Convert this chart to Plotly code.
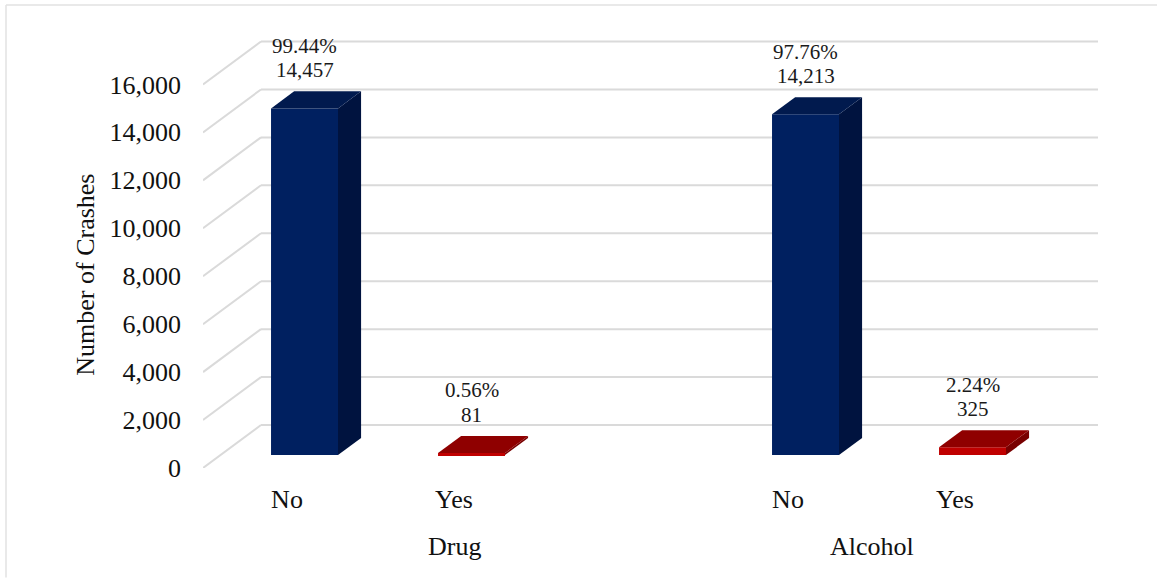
import plotly.graph_objects as go

# Data
groups = ["Drug", "Alcohol"]
categories = ["No", "Yes", "No", "Yes"]
positions = [0, 1, 3, 4]
crashes = [14457, 81, 14213, 325]
percents = ["99.44%", "0.56%", "97.76%", "2.24%"]
value_labels = ["14,457", "81", "14,213", "325"]
y_ticks = [0, 2000, 4000, 6000, 8000, 10000, 12000, 14000, 16000]
group_positions = [1, 3.5]

# Style
FRONT = ["#002060", "#c00000", "#002060", "#c00000"]
TOP = ["#011a4e", "#8f0000", "#011a4e", "#8f0000"]
SIDE = ["#00133f", "#780000", "#00133f", "#780000"]
GRID = "#dadada"
FONT = "Liberation Serif"
W, H = 1157, 578
L, R, T, B = 203, 1098, 30, 468.5
PX_X = 167.0            # pixels per category step
PX_Y = 0.024            # pixels per crash
X0 = (L - 287) / PX_X
X1 = (R - 287) / PX_X
Y1 = (B - T) / PX_Y
WALL_DX = 58 / PX_X     # full depth of the floor in x units
WALL_DY = 43 / PX_Y     # full depth of the floor in y units
BAR_W = 0.401
NEAR = 0.302            # depth fraction of the bar front
FAR = 0.70              # depth fraction of the bar back

fig = go.Figure()

# Front faces
fig.add_trace(go.Bar(
    x=[p + NEAR * WALL_DX for p in positions],
    y=crashes,
    base=[NEAR * WALL_DY] * 4,
    width=BAR_W,
    marker=dict(color=FRONT, line=dict(width=0)),
    hoverinfo="skip",
))

# Top and side faces
ddx = (FAR - NEAR) * WALL_DX
ddy = (FAR - NEAR) * WALL_DY
for p, v, top, side in zip(positions, crashes, TOP, SIDE):
    x_l = p + NEAR * WALL_DX - BAR_W / 2
    x_r = x_l + BAR_W
    y_b = NEAR * WALL_DY
    y_t = y_b + v
    fig.add_trace(go.Scatter(
        x=[x_r, x_r + ddx, x_r + ddx, x_r, x_r],
        y=[y_b, y_b + ddy, y_t + ddy, y_t, y_b],
        mode="lines", fill="toself", fillcolor=side,
        line=dict(width=0, color=side), hoverinfo="skip",
    ))
    fig.add_trace(go.Scatter(
        x=[x_l, x_r, x_r + ddx, x_l + ddx, x_l],
        y=[y_t, y_t, y_t + ddy, y_t + ddy, y_t],
        mode="lines", fill="toself", fillcolor=top,
        line=dict(width=0, color=top), hoverinfo="skip",
    ))

# Gridlines on the back wall and floor diagonals
shapes = []
grid_line = dict(color=GRID, width=2)
for v in y_ticks:
    shapes.append(dict(type="line", xref="x", yref="y", layer="below",
                       x0=X0, y0=v, x1=X0 + WALL_DX, y1=v + WALL_DY, line=grid_line))
    shapes.append(dict(type="line", xref="x", yref="y", layer="below",
                       x0=X0 + WALL_DX, y0=v + WALL_DY, x1=X1, y1=v + WALL_DY, line=grid_line))

# Outer chart border (left and top)
px = lambda v: (v - L) / (R - L)
py = lambda v: (B - v) / (B - T)
frame = dict(color="#e2e2e2", width=1.5)
shapes.append(dict(type="line", xref="paper", yref="paper", x0=px(6), x1=px(6), y0=py(5), y1=py(578), line=frame))
shapes.append(dict(type="line", xref="paper", yref="paper", x0=px(6), x1=px(1157), y0=py(5), y1=py(5), line=frame))

# Annotations
ann = []
for p, v, pct, lab in zip(positions, crashes, percents, value_labels):
    cx = p + NEAR * WALL_DX
    yy = NEAR * WALL_DY + v + ddy
    ann.append(dict(x=cx, y=yy, text=pct, showarrow=False, yshift=45.5,
                    xanchor="center", yanchor="middle",
                    font=dict(family=FONT, size=21, color="#1a1a1a")))
    ann.append(dict(x=cx, y=yy, text=lab, showarrow=False, yshift=21,
                    xanchor="center", yanchor="middle",
                    font=dict(family=FONT, size=21, color="#1a1a1a")))
for gx, g in zip(group_positions, groups):
    ann.append(dict(x=gx, y=0, text=g, showarrow=False, yshift=-78.5,
                    xanchor="center", yanchor="middle",
                    font=dict(family=FONT, size=26, color="#111111")))
ann.append(dict(xref="paper", yref="paper", x=px(86), y=py(275), text="Number of Crashes",
                textangle=-90, showarrow=False, xanchor="center", yanchor="middle",
                font=dict(family=FONT, size=26, color="#111111")))

fig.update_layout(
    width=W, height=H,
    margin=dict(l=L, r=W - R, t=T, b=H - B, pad=0, autoexpand=False),
    paper_bgcolor="white", plot_bgcolor="white",
    showlegend=False, shapes=shapes, annotations=ann,
    font=dict(family=FONT, size=26, color="#111111"),
    xaxis=dict(range=[X0, X1], tickvals=positions, ticktext=categories, showgrid=False,
               zeroline=False, showline=False, ticks="", ticklabelstandoff=13,
               tickfont=dict(family=FONT, size=26, color="#111111")),
    yaxis=dict(range=[0, Y1], tickvals=y_ticks, tickformat=",d", showgrid=False,
               zeroline=False, showline=False, ticks="", ticklabelstandoff=21,
               tickfont=dict(family=FONT, size=26, color="#111111")),
)

fig.write_html("out.html", config=dict(displayModeBar=False),
               post_script="document.body.style.margin='0';document.body.style.overflow='hidden';")
